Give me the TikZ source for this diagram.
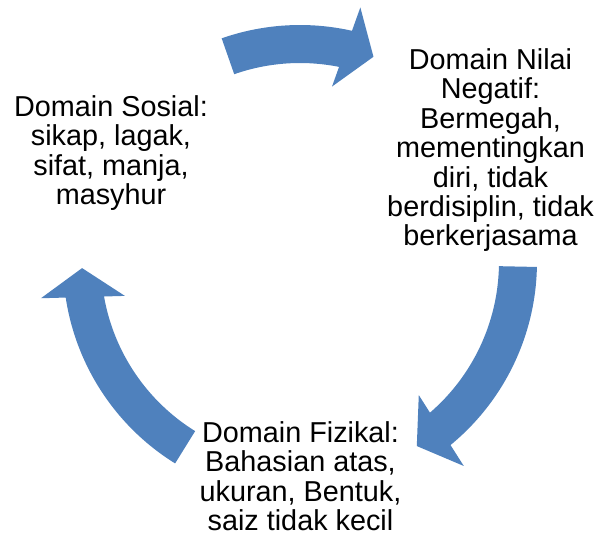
\documentclass[tikz,border=0pt]{standalone}
\usepackage{fontspec}
\setmainfont{Liberation Sans}
\definecolor{arrowblue}{HTML}{4F81BD}
\tikzset{
  arrowfill/.style={fill=arrowblue, draw=none},
  label text/.style={font=\fontsize{28.8}{29.4}\selectfont, align=center, inner sep=0pt, anchor=north, text=black}
}
\pgfmathsetmacro\arRo{237}
\pgfmathsetmacro\arRi{199}
\pgfmathsetmacro\arRm{218}
\pgfmathsetmacro\arW{42}
\pgfmathsetmacro\arD{29}
\pgfmathsetmacro\arAo{asin(\arD/\arRo)}
\pgfmathsetmacro\arAi{asin(\arD/\arRi)}
\pgfmathsetmacro\arXi{\arRi*cos(\arAi)}
\pgfmathsetmacro\arWo{\arRm+\arW}
\pgfmathsetmacro\arWi{\arRm-\arW}
\newcommand\cyclearrow[2]{%
  \begin{scope}[rotate=#1]
    \fill[arrowfill] (#2:\arRo) arc[start angle=#2, end angle=\arAo, radius=\arRo]
      -- (\arWo, \arD) -- (\arRm, 0) -- (\arWi, \arD)
      -- (\arXi, \arD)
      arc[start angle=\arAi, end angle=#2, radius=\arRi] -- cycle;
  \end{scope}}
\begin{document}
\begin{tikzpicture}[x=1pt, y=1pt]
  \useasboundingbox (-300,-277) rectangle (300,262);
  % arrows (tip angle, span)
  \cyclearrow{70.3}{39}
  \cyclearrow{-57.6}{56.4}
  \cyclearrow{181.6}{56.6}
  % texts
  \node[label text] (sosial) at (-189,166.5) {Domain Sosial:\\sikap, lagak,\\sifat, manja,\\masyhur};
  \node[label text] (nilai) at (190.5,213.5) {Domain Nilai\\Negatif:\\Bermegah,\\mementingkan\\diri, tidak\\berdisiplin, tidak\\berkerjasama};
  \node[label text] (fizikal) at (0.5,-159.5) {Domain Fizikal:\\Bahasian atas,\\ukuran, Bentuk,\\saiz tidak kecil};
\end{tikzpicture}
\end{document}
